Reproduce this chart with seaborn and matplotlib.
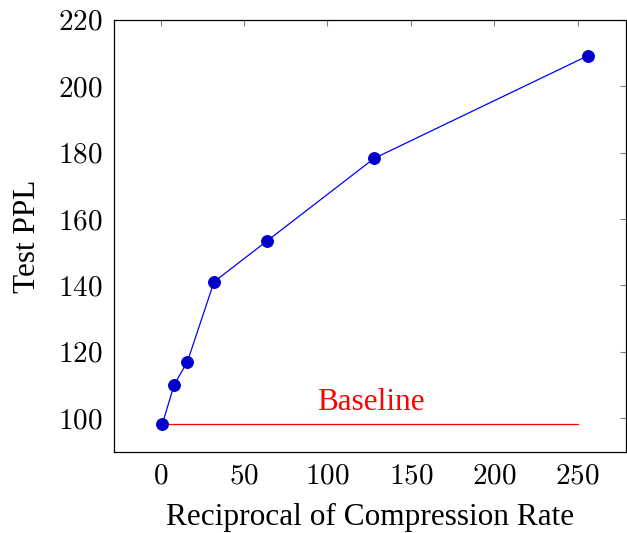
import matplotlib
matplotlib.use("Agg")
import matplotlib.pyplot as plt
import seaborn as sns
import pandas as pd

# Data
compression_recip = [1, 8, 16, 32, 64, 128, 256]
test_ppl = [98.2, 110.0, 117.0, 141.1, 153.5, 178.3, 209.2]
baseline_x = [1, 250]
baseline_y = [98.2, 98.2]
baseline_label = "Baseline"
x_ticks = [0, 50, 100, 150, 200, 250]
y_ticks = [100, 120, 140, 160, 180, 200, 220]

sns.set_theme(style="white")
plt.rcParams['font.family'] = ['Liberation Serif', 'DejaVu Serif']
plt.rcParams['mathtext.fontset'] = 'cm'
plt.rcParams['text.color'] = 'black'
plt.rcParams['axes.labelcolor'] = 'black'

fig = plt.figure(figsize=(6.27, 5.33), dpi=100)
ax = fig.add_axes([114/627, 1 - 452/533, (626 - 114)/627, (452 - 20)/533])

df = pd.DataFrame({"x": compression_recip, "y": test_ppl})
sns.lineplot(data=df, x="x", y="y", ax=ax, color="#0000ff", linewidth=0.9,
             marker="o", markersize=8.5, markerfacecolor="#0000cc",
             markeredgecolor="#0000cc", zorder=3)
dfb = pd.DataFrame({"x": baseline_x, "y": baseline_y})
sns.lineplot(data=dfb, x="x", y="y", ax=ax, color="#ff0000", linewidth=0.9, zorder=2)
ax.text(126, 100.4, baseline_label, color="#ff0000", fontsize=22.5,
        ha="center", va="bottom")

ax.set_xlim(-28, 279)
ax.set_ylim(89.8, 220)
ax.set_xticks(x_ticks)
ax.set_xticklabels([f"${v}$" for v in x_ticks])
ax.set_yticks(y_ticks)
ax.set_yticklabels([f"${v}$" for v in y_ticks])
ax.set_xlabel("Reciprocal of Compression Rate", fontsize=22.5, labelpad=10)
ax.set_ylabel("Test PPL", fontsize=22.5, labelpad=12)
ax.tick_params(axis="both", direction="in", length=4, width=0.8, color="#808080",
               labelsize=21, top=True, right=True, labelcolor="black", pad=8)
for s in ax.spines.values():
    s.set_color("black")
    s.set_linewidth(0.9)
    s.set_visible(True)
ax.grid(False)

fig.savefig("out.png", dpi=100)
